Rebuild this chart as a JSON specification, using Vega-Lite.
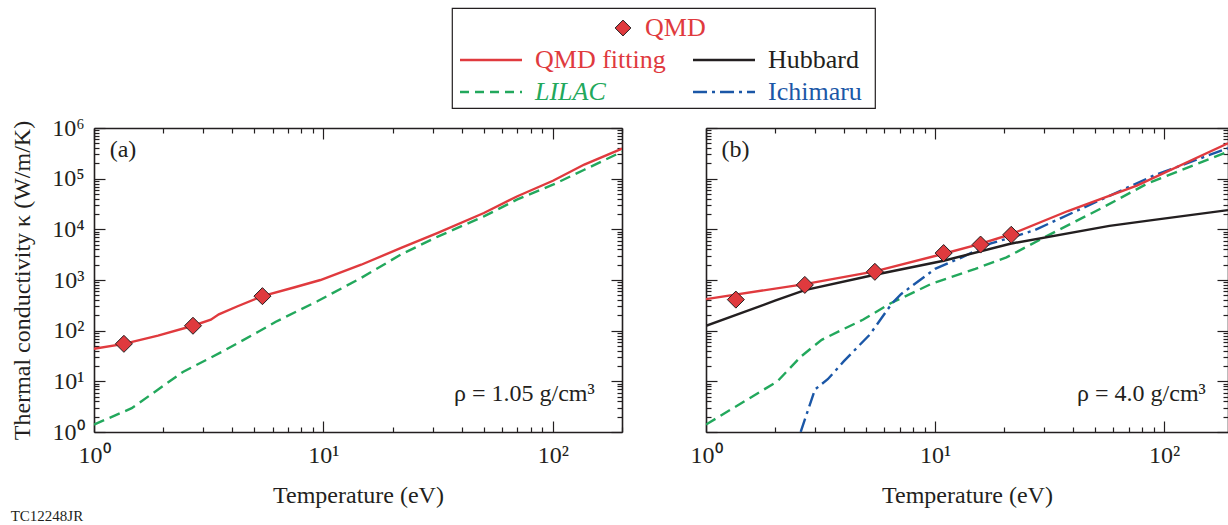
{
  "$schema": "https://vega.github.io/schema/vega-lite/v6.json",
  "padding": {"left": 10, "top": 7, "right": 0, "bottom": 0},
  "background": "white",
  "config": {
    "font": "Liberation Serif",
    "view": {"stroke": null},
    "axis": {"grid": false, "labelFont": "Liberation Serif", "titleFont": "Liberation Serif", "labelFontSize": 24, "titleFontSize": 24, "titleFontWeight": "normal", "labelColor": "#231f20", "titleColor": "#231f20", "tickColor": "#231f20", "domainColor": "#231f20", "labelFlush": false, "labelOverlap": false, "tickWidth": 1.2, "domainWidth": 1.6},
    "text": {"font": "Liberation Serif"}
  },
  "title": {"text": "TC12248JR", "orient": "bottom", "anchor": "start", "fontSize": 15, "fontWeight": "normal", "font": "Liberation Serif", "color": "#231f20", "offset": 2},
  "datasets": {
    "legend": [
      {"kind": "point", "series": "qmd", "label": "QMD", "col": 0.5, "row": 0},
      {"kind": "line", "series": "fit", "label": "QMD fitting", "col": 0, "row": 1},
      {"kind": "line", "series": "hub", "label": "Hubbard", "col": 1, "row": 1},
      {"kind": "line", "series": "lilac", "label": "LILAC", "col": 0, "row": 2},
      {"kind": "line", "series": "ichi", "label": "Ichimaru", "col": 1, "row": 2}
    ],
    "curves": [
      {"p": "a", "s": "fit", "T": 1, "k": 44}, {"p": "a", "s": "fit", "T": 1.35, "k": 55}, {"p": "a", "s": "fit", "T": 1.9, "k": 80}, {"p": "a", "s": "fit", "T": 2.7, "k": 125}, {"p": "a", "s": "fit", "T": 3.23, "k": 165}, {"p": "a", "s": "fit", "T": 3.5, "k": 210}, {"p": "a", "s": "fit", "T": 4.2, "k": 300}, {"p": "a", "s": "fit", "T": 5.42, "k": 480}, {"p": "a", "s": "fit", "T": 7.5, "k": 720}, {"p": "a", "s": "fit", "T": 9.7, "k": 1000}, {"p": "a", "s": "fit", "T": 14.6, "k": 2000}, {"p": "a", "s": "fit", "T": 21.8, "k": 4300}, {"p": "a", "s": "fit", "T": 31.5, "k": 8500}, {"p": "a", "s": "fit", "T": 50, "k": 21000}, {"p": "a", "s": "fit", "T": 70, "k": 45000}, {"p": "a", "s": "fit", "T": 100, "k": 91000}, {"p": "a", "s": "fit", "T": 137, "k": 190000}, {"p": "a", "s": "fit", "T": 200, "k": 390000},
      {"p": "a", "s": "lilac", "T": 1, "k": 1.4}, {"p": "a", "s": "lilac", "T": 1.46, "k": 2.95}, {"p": "a", "s": "lilac", "T": 2.44, "k": 15.3}, {"p": "a", "s": "lilac", "T": 3.6, "k": 38}, {"p": "a", "s": "lilac", "T": 5.2, "k": 95}, {"p": "a", "s": "lilac", "T": 6.2, "k": 150}, {"p": "a", "s": "lilac", "T": 9.4, "k": 380}, {"p": "a", "s": "lilac", "T": 14.6, "k": 1100}, {"p": "a", "s": "lilac", "T": 21.8, "k": 3200}, {"p": "a", "s": "lilac", "T": 31.5, "k": 7200}, {"p": "a", "s": "lilac", "T": 50, "k": 18000}, {"p": "a", "s": "lilac", "T": 70, "k": 39000}, {"p": "a", "s": "lilac", "T": 100, "k": 76000}, {"p": "a", "s": "lilac", "T": 137, "k": 150000}, {"p": "a", "s": "lilac", "T": 200, "k": 340000},
      {"p": "b", "s": "fit", "T": 1, "k": 420}, {"p": "b", "s": "fit", "T": 2.7, "k": 830}, {"p": "b", "s": "fit", "T": 5.46, "k": 1480}, {"p": "b", "s": "fit", "T": 10.9, "k": 3300}, {"p": "b", "s": "fit", "T": 15.6, "k": 5100}, {"p": "b", "s": "fit", "T": 21.3, "k": 7900}, {"p": "b", "s": "fit", "T": 38, "k": 23000}, {"p": "b", "s": "fit", "T": 76, "k": 73000}, {"p": "b", "s": "fit", "T": 190, "k": 500000},
      {"p": "b", "s": "hub", "T": 1, "k": 125}, {"p": "b", "s": "hub", "T": 2, "k": 390}, {"p": "b", "s": "hub", "T": 2.7, "k": 630}, {"p": "b", "s": "hub", "T": 5.46, "k": 1270}, {"p": "b", "s": "hub", "T": 10.9, "k": 2400}, {"p": "b", "s": "hub", "T": 21.3, "k": 5200}, {"p": "b", "s": "hub", "T": 57.7, "k": 11700}, {"p": "b", "s": "hub", "T": 87, "k": 15000}, {"p": "b", "s": "hub", "T": 190, "k": 24000},
      {"p": "b", "s": "lilac", "T": 1, "k": 1.4}, {"p": "b", "s": "lilac", "T": 2.05, "k": 10}, {"p": "b", "s": "lilac", "T": 2.6, "k": 31}, {"p": "b", "s": "lilac", "T": 3.2, "k": 66}, {"p": "b", "s": "lilac", "T": 3.94, "k": 105}, {"p": "b", "s": "lilac", "T": 4.84, "k": 164}, {"p": "b", "s": "lilac", "T": 6.4, "k": 347}, {"p": "b", "s": "lilac", "T": 9.6, "k": 835}, {"p": "b", "s": "lilac", "T": 15, "k": 1660}, {"p": "b", "s": "lilac", "T": 20.5, "k": 2800}, {"p": "b", "s": "lilac", "T": 31, "k": 7500}, {"p": "b", "s": "lilac", "T": 54, "k": 27000}, {"p": "b", "s": "lilac", "T": 84, "k": 79000}, {"p": "b", "s": "lilac", "T": 190, "k": 340000},
      {"p": "b", "s": "ichi", "T": 2.59, "k": 1}, {"p": "b", "s": "ichi", "T": 2.99, "k": 6.9}, {"p": "b", "s": "ichi", "T": 3.4, "k": 11}, {"p": "b", "s": "ichi", "T": 4.0, "k": 25}, {"p": "b", "s": "ichi", "T": 5.18, "k": 83}, {"p": "b", "s": "ichi", "T": 6.5, "k": 350}, {"p": "b", "s": "ichi", "T": 7.1, "k": 525}, {"p": "b", "s": "ichi", "T": 10, "k": 1660}, {"p": "b", "s": "ichi", "T": 13.1, "k": 2800}, {"p": "b", "s": "ichi", "T": 17.4, "k": 5200}, {"p": "b", "s": "ichi", "T": 27, "k": 9500}, {"p": "b", "s": "ichi", "T": 54, "k": 40000}, {"p": "b", "s": "ichi", "T": 90, "k": 115000}, {"p": "b", "s": "ichi", "T": 190, "k": 400000}
    ],
    "qmd": [
      {"p": "a", "T": 1.35, "k": 55}, {"p": "a", "T": 2.7, "k": 125}, {"p": "a", "T": 5.42, "k": 480},
      {"p": "b", "T": 1.35, "k": 410}, {"p": "b", "T": 2.7, "k": 800}, {"p": "b", "T": 5.46, "k": 1450}, {"p": "b", "T": 10.9, "k": 3400}, {"p": "b", "T": 15.8, "k": 5000}, {"p": "b", "T": 21.5, "k": 7800}
    ]
  },
  "spacing": 7,
  "vconcat": [
    {
      "spacing": 0,
      "hconcat": [
        {"width": 357, "height": 100, "data": {"values": []}, "mark": "point"},
        {
          "width": 423, "height": 100,
          "view": {"stroke": "#231f20", "strokeWidth": 1.2},
          "data": {"name": "legend"},
          "encoding": {
            "x": {"field": "col", "type": "quantitative", "scale": {"domain": [-0.1674, 1.648], "nice": false, "zero": false}, "axis": null},
            "y": {"field": "row", "type": "quantitative", "scale": {"domain": [-0.625, 2.5], "reverse": true, "nice": false, "zero": false}, "axis": null}
          },
          "layer": [
            {
              "transform": [{"filter": "datum.kind == 'line'"}],
              "mark": {"type": "rule", "xOffset": -31, "x2Offset": 31, "strokeWidth": 2.5},
              "encoding": {
                "x2": {"field": "col"},
                "color": {"field": "series", "type": "nominal", "scale": {"domain": ["fit", "hub", "lilac", "ichi"], "range": ["#e03a3e", "#231f20", "#22a85c", "#1b57a7"]}, "legend": null},
                "strokeDash": {"field": "series", "type": "nominal", "scale": {"domain": ["fit", "hub", "lilac", "ichi"], "range": [[1, 0], [1, 0], [9, 6], [14, 5, 3, 5]]}, "legend": null}
              }
            },
            {
              "transform": [{"filter": "datum.kind == 'line' && datum.series != 'lilac'"}],
              "mark": {"type": "text", "align": "left", "baseline": "middle", "xOffset": 44, "fontSize": 26},
              "encoding": {
                "text": {"field": "label"},
                "color": {"field": "series", "type": "nominal", "legend": null}
              }
            },
            {
              "transform": [{"filter": "datum.series == 'lilac'"}],
              "mark": {"type": "text", "align": "left", "baseline": "middle", "xOffset": 44, "fontSize": 26, "fontStyle": "italic"},
              "encoding": {
                "text": {"field": "label"},
                "color": {"field": "series", "type": "nominal", "legend": null}
              }
            },
            {
              "transform": [{"filter": "datum.kind == 'point'"}],
              "mark": {"type": "point", "shape": "diamond", "filled": true, "fill": "#e03a3e", "stroke": "#231f20", "strokeWidth": 1, "size": 250, "opacity": 1, "xOffset": 15.5}
            },
            {
              "transform": [{"filter": "datum.kind == 'point'"}],
              "mark": {"type": "text", "align": "left", "baseline": "middle", "xOffset": 37.5, "fontSize": 26, "color": "#e03a3e"},
              "encoding": {"text": {"field": "label"}}
            }
          ]
        }
      ]
    },
    {
      "spacing": 84,
      "bounds": "flush",
      "hconcat": [
        {
          "width": 528, "height": 304,
          "resolve": {"axis": {"x": "independent", "y": "independent"}},
          "layer": [
            {
              "data": {"name": "curves"},
              "transform": [{"filter": "datum.p == 'a' && datum.s == 'fit'"}],
              "mark": {"type": "line", "color": "#e03a3e", "strokeWidth": 2.4, "clip": true},
              "encoding": {
                "x": {"field": "T", "type": "quantitative", "scale": {"type": "log", "domain": [1, 200], "nice": false}, "axis": {"orient": "bottom", "values": [1, 10, 100], "tickSize": -11, "labelPadding": 22, "labelExpr": "'10' + ['⁰','¹','²','³','⁴','⁵','⁶'][round(log(datum.value)/LN10)]", "title": "Temperature (eV)", "titlePadding": 16}},
                "y": {"field": "k", "type": "quantitative", "scale": {"type": "log", "domain": [1, 1000000], "nice": false}, "axis": {"orient": "left", "values": [1, 10, 100, 1000, 10000, 100000, 1000000], "tickSize": -11, "labelPadding": 21, "labelExpr": "'10' + ['⁰','¹','²','³','⁴','⁵','⁶'][round(log(datum.value)/LN10)]", "title": "Thermal conductivity κ (W/m/K)", "titlePadding": 17}}
              }
            },
            {
              "data": {"name": "curves"},
              "transform": [{"filter": "datum.p == 'a' && datum.s == 'lilac'"}],
              "mark": {"type": "line", "color": "#22a85c", "strokeWidth": 2.4, "strokeDash": [11, 6], "clip": true},
              "encoding": {
                "x": {"field": "T", "type": "quantitative", "axis": {"orient": "bottom", "values": [2, 3, 4, 5, 6, 7, 8, 9, 20, 30, 40, 50, 60, 70, 80, 90, 200], "tickSize": -5, "labels": false, "domain": false, "title": null}},
                "y": {"field": "k", "type": "quantitative", "axis": {"orient": "left", "values": [2, 3, 4, 5, 6, 7, 8, 9, 20, 30, 40, 50, 60, 70, 80, 90, 200, 300, 400, 500, 600, 700, 800, 900, 2000, 3000, 4000, 5000, 6000, 7000, 8000, 9000, 20000, 30000, 40000, 50000, 60000, 70000, 80000, 90000, 200000, 300000, 400000, 500000, 600000, 700000, 800000, 900000], "tickSize": -5, "labels": false, "domain": false, "title": null}}
              }
            },
            {
              "data": {"name": "qmd"},
              "transform": [{"filter": "datum.p == 'a'"}],
              "mark": {"type": "point", "shape": "diamond", "filled": true, "fill": "#e03a3e", "stroke": "#231f20", "strokeWidth": 1, "size": 290, "opacity": 1},
              "encoding": {
                "x": {"field": "T", "type": "quantitative", "axis": {"orient": "top", "values": [1, 10, 100], "tickSize": -11, "labels": false, "title": null}},
                "y": {"field": "k", "type": "quantitative", "axis": {"orient": "right", "values": [1, 10, 100, 1000, 10000, 100000, 1000000], "tickSize": -11, "labels": false, "title": null}}
              }
            },
            {
              "data": {"values": [{"label": "(a)"}]},
              "mark": {"type": "text", "align": "left", "baseline": "middle", "fontSize": 24, "color": "#231f20"},
              "encoding": {
                "text": {"field": "label"},
                "x": {"datum": 1.17, "type": "quantitative", "axis": {"orient": "top", "values": [2, 3, 4, 5, 6, 7, 8, 9, 20, 30, 40, 50, 60, 70, 80, 90, 200], "tickSize": -5, "labels": false, "domain": false, "title": null}},
                "y": {"datum": 370000, "type": "quantitative", "axis": {"orient": "right", "values": [2, 3, 4, 5, 6, 7, 8, 9, 20, 30, 40, 50, 60, 70, 80, 90, 200, 300, 400, 500, 600, 700, 800, 900, 2000, 3000, 4000, 5000, 6000, 7000, 8000, 9000, 20000, 30000, 40000, 50000, 60000, 70000, 80000, 90000, 200000, 300000, 400000, 500000, 600000, 700000, 800000, 900000], "tickSize": -5, "labels": false, "domain": false, "title": null}}
              }
            },
            {
              "data": {"values": [{"label": "ρ = 1.05 g/cm³"}]},
              "mark": {"type": "text", "align": "right", "baseline": "middle", "fontSize": 24, "color": "#231f20"},
              "encoding": {
                "text": {"field": "label"},
                "x": {"datum": 152, "type": "quantitative", "axis": null},
                "y": {"datum": 5.5, "type": "quantitative", "axis": null}
              }
            }
          ]
        },
        {
          "width": 522, "height": 304,
          "resolve": {"axis": {"x": "independent", "y": "independent"}},
          "layer": [
            {
              "data": {"name": "curves"},
              "transform": [{"filter": "datum.p == 'b' && datum.s == 'lilac'"}],
              "mark": {"type": "line", "color": "#22a85c", "strokeWidth": 2.4, "strokeDash": [11, 6], "clip": true},
              "encoding": {
                "x": {"field": "T", "type": "quantitative", "scale": {"type": "log", "domain": [1, 190], "nice": false}, "axis": {"orient": "bottom", "values": [1, 10, 100], "tickSize": -11, "labelPadding": 22, "labelExpr": "'10' + ['⁰','¹','²','³','⁴','⁵','⁶'][round(log(datum.value)/LN10)]", "title": "Temperature (eV)", "titlePadding": 16}},
                "y": {"field": "k", "type": "quantitative", "scale": {"type": "log", "domain": [1, 1000000], "nice": false}, "axis": {"orient": "left", "values": [1, 10, 100, 1000, 10000, 100000, 1000000], "tickSize": -11, "labels": false, "title": null}}
              }
            },
            {
              "data": {"name": "curves"},
              "transform": [{"filter": "datum.p == 'b' && datum.s == 'ichi'"}],
              "mark": {"type": "line", "color": "#1b57a7", "strokeWidth": 2.4, "strokeDash": [14, 5, 3, 5], "clip": true},
              "encoding": {
                "x": {"field": "T", "type": "quantitative", "axis": {"orient": "bottom", "values": [2, 3, 4, 5, 6, 7, 8, 9, 20, 30, 40, 50, 60, 70, 80, 90], "tickSize": -5, "labels": false, "domain": false, "title": null}},
                "y": {"field": "k", "type": "quantitative", "axis": {"orient": "left", "values": [2, 3, 4, 5, 6, 7, 8, 9, 20, 30, 40, 50, 60, 70, 80, 90, 200, 300, 400, 500, 600, 700, 800, 900, 2000, 3000, 4000, 5000, 6000, 7000, 8000, 9000, 20000, 30000, 40000, 50000, 60000, 70000, 80000, 90000, 200000, 300000, 400000, 500000, 600000, 700000, 800000, 900000], "tickSize": -5, "labels": false, "domain": false, "title": null}}
              }
            },
            {
              "data": {"name": "curves"},
              "transform": [{"filter": "datum.p == 'b' && datum.s == 'hub'"}],
              "mark": {"type": "line", "color": "#231f20", "strokeWidth": 2.4, "clip": true},
              "encoding": {
                "x": {"field": "T", "type": "quantitative", "axis": {"orient": "top", "values": [1, 10, 100], "tickSize": -11, "labels": false, "title": null}},
                "y": {"field": "k", "type": "quantitative", "axis": {"orient": "right", "values": [1, 10, 100, 1000, 10000, 100000, 1000000], "tickSize": -11, "labels": false, "title": null}}
              }
            },
            {
              "data": {"name": "curves"},
              "transform": [{"filter": "datum.p == 'b' && datum.s == 'fit'"}],
              "mark": {"type": "line", "color": "#e03a3e", "strokeWidth": 2.4, "clip": true},
              "encoding": {
                "x": {"field": "T", "type": "quantitative", "axis": {"orient": "top", "values": [2, 3, 4, 5, 6, 7, 8, 9, 20, 30, 40, 50, 60, 70, 80, 90], "tickSize": -5, "labels": false, "domain": false, "title": null}},
                "y": {"field": "k", "type": "quantitative", "axis": {"orient": "right", "values": [2, 3, 4, 5, 6, 7, 8, 9, 20, 30, 40, 50, 60, 70, 80, 90, 200, 300, 400, 500, 600, 700, 800, 900, 2000, 3000, 4000, 5000, 6000, 7000, 8000, 9000, 20000, 30000, 40000, 50000, 60000, 70000, 80000, 90000, 200000, 300000, 400000, 500000, 600000, 700000, 800000, 900000], "tickSize": -5, "labels": false, "domain": false, "title": null}}
              }
            },
            {
              "data": {"name": "qmd"},
              "transform": [{"filter": "datum.p == 'b'"}],
              "mark": {"type": "point", "shape": "diamond", "filled": true, "fill": "#e03a3e", "stroke": "#231f20", "strokeWidth": 1, "size": 290, "opacity": 1},
              "encoding": {
                "x": {"field": "T", "type": "quantitative", "axis": null},
                "y": {"field": "k", "type": "quantitative", "axis": null}
              }
            },
            {
              "data": {"values": [{"label": "(b)"}]},
              "mark": {"type": "text", "align": "left", "baseline": "middle", "fontSize": 24, "color": "#231f20"},
              "encoding": {
                "text": {"field": "label"},
                "x": {"datum": 1.17, "type": "quantitative", "axis": null},
                "y": {"datum": 370000, "type": "quantitative", "axis": null}
              }
            },
            {
              "data": {"values": [{"label": "ρ = 4.0 g/cm³"}]},
              "mark": {"type": "text", "align": "right", "baseline": "middle", "fontSize": 24, "color": "#231f20"},
              "encoding": {
                "text": {"field": "label"},
                "x": {"datum": 152, "type": "quantitative", "axis": null},
                "y": {"datum": 5.5, "type": "quantitative", "axis": null}
              }
            }
          ]
        }
      ]
    }
  ]
}
